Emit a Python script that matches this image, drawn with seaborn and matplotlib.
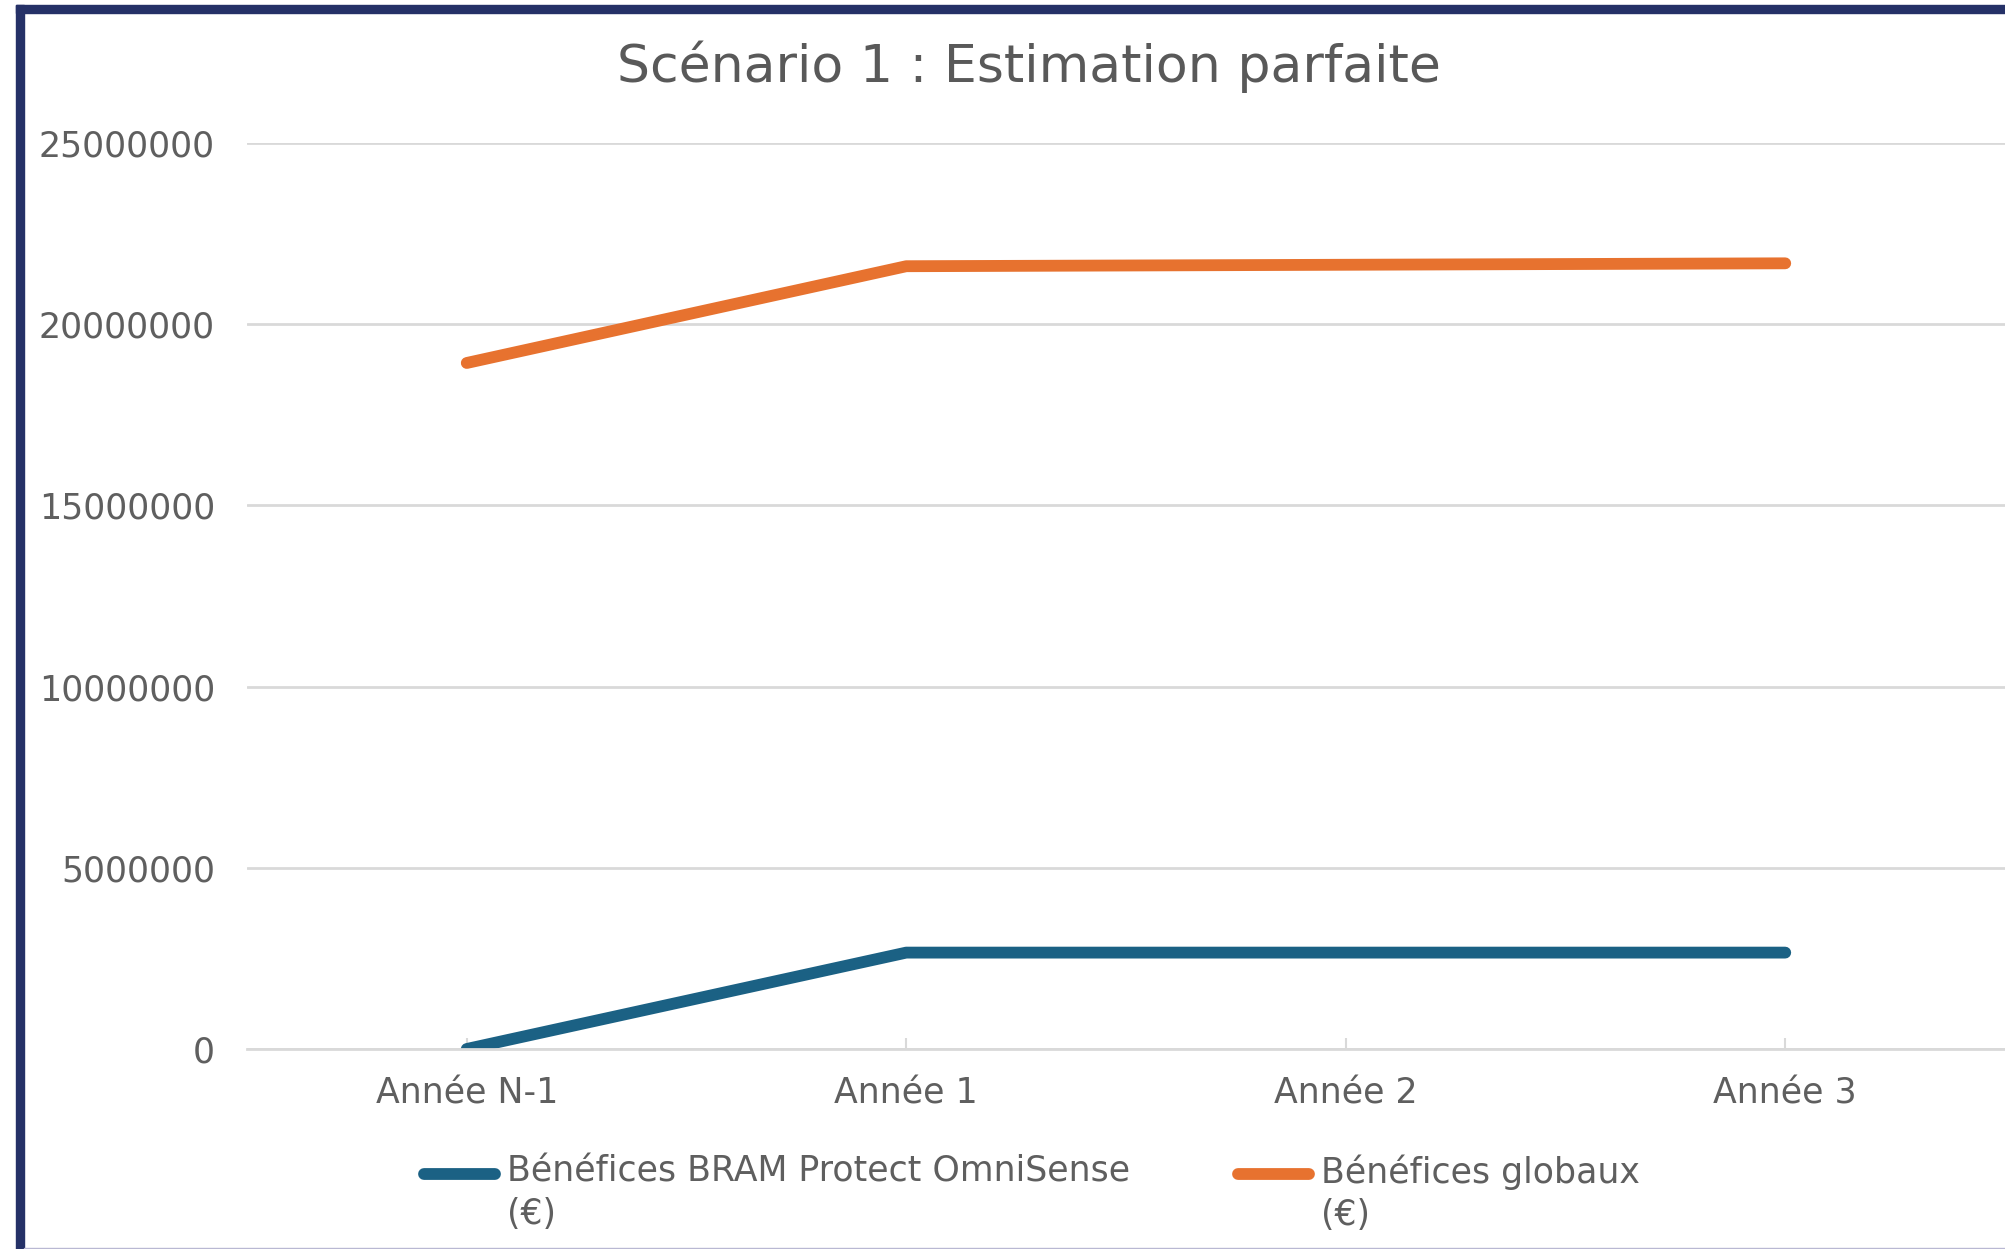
import numpy as np
import pandas as pd
import matplotlib
matplotlib.use("Agg")
import matplotlib.pyplot as plt
from matplotlib.patches import Rectangle
from matplotlib.lines import Line2D
from matplotlib.legend_handler import HandlerLine2D
from matplotlib.ticker import FuncFormatter
import seaborn as sns

# ---- data -------------------------------------------------------------
years = ["Année N-1", "Année 1", "Année 2", "Année 3"]
benefices_bram = [0, 2660000, 2660000, 2660000]
benefices_globaux = [18930000, 21600000, 21640000, 21680000]
series_names = ["Bénéfices BRAM Protect OmniSense\n(€)", "Bénéfices globaux\n(€)"]
series_colors = ["#1B6184", "#E7722F"]
y_ticks = [0, 5000000, 10000000, 15000000, 20000000, 25000000]
title = "Scénario 1 : Estimation parfaite"

df = pd.DataFrame({
    "Année": years * 2,
    "Valeur": benefices_bram + benefices_globaux,
    "Série": [series_names[0]] * len(years) + [series_names[1]] * len(years),
})

# ---- style ------------------------------------------------------------
sns.set_theme(style="white")
plt.rcParams["font.family"] = ["DejaVu Sans"]
TXT = "#5f5f5f"
GRID = "#D9D9D9"
NAVY = "#253167"

W, H, DPI = 2005, 1249, 100
fig = plt.figure(figsize=(W / DPI, H / DPI), dpi=DPI)
fig.patch.set_facecolor("white")

ax = fig.add_axes([247 / W, 1 - 1049 / H, 1 - 247 / W, (1049 - 143) / H])

sns.lineplot(
    data=df, x="Année", y="Valeur", hue="Série", palette=series_colors,
    sort=False, legend=False, ax=ax,
)
for ln in ax.lines:
    ln.set_linewidth(8.5)
    ln.set_solid_capstyle("round")

ax.set_xlim(-0.5, 3.5)
ax.set_ylim(0, 25000000)
ax.set_yticks(y_ticks)
ax.yaxis.set_major_formatter(FuncFormatter(lambda v, p: f"{v:.0f}"))
ax.set_xlabel("")
ax.set_ylabel("")

ax.grid(axis="y", color=GRID, linewidth=2.0)
ax.grid(axis="x", visible=False)
ax.set_axisbelow(True)
for side in ["left", "right", "top"]:
    ax.spines[side].set_visible(False)
ax.spines["bottom"].set_color(GRID)
ax.spines["bottom"].set_linewidth(2.0)

ax.tick_params(axis="y", length=0, pad=23, labelsize=25, labelcolor=TXT)
ax.tick_params(axis="x", direction="in", length=8, width=1.5, color=GRID,
               pad=20, labelsize=25, labelcolor=TXT, bottom=True)


class FirstLineHandler(HandlerLine2D):
    """Line handle aligned with the first line of a two-line label."""

    def create_artists(self, legend, orig_handle, xdescent, ydescent,
                       width, height, fontsize, trans):
        arts = super().create_artists(legend, orig_handle, xdescent, ydescent,
                                      width, height, fontsize, trans)
        for a in arts:
            a.set_ydata(np.asarray(a.get_ydata()) + 0.58 * fontsize)
        return arts


handles = list(ax.lines[:2])
leg = fig.legend(
    handles, series_names, ncol=2, frameon=False,
    loc="center left", bbox_to_anchor=(424 / W, 1 - 1193 / H),
    fontsize=25, handlelength=2.05, handletextpad=0.35, columnspacing=3.1,
    borderpad=0, borderaxespad=0,
    handler_map={Line2D: FirstLineHandler()},
)
for t in leg.get_texts():
    t.set_color(TXT)
    t.set_linespacing(1.3)

fig.text(1029 / W, 1 - 82 / H, title, ha="center", va="baseline",
         fontsize=37.5, color="#595959")

# frame: navy on top and left, thin lavender line at the bottom
fig.patches.append(Rectangle((16 / W, 0), 8 / W, 1 - 5 / H,
                             transform=fig.transFigure, color=NAVY, zorder=5))
fig.patches.append(Rectangle((16 / W, 1 - 13 / H), 1 - 16 / W, 8 / H,
                             transform=fig.transFigure, color=NAVY, zorder=5))
fig.patches.append(Rectangle((24 / W, 0), 1 - 24 / W, 1.5 / H,
                             transform=fig.transFigure, color="#B9B8D3", zorder=5))

fig.savefig("out.png", dpi=DPI, facecolor="white")
